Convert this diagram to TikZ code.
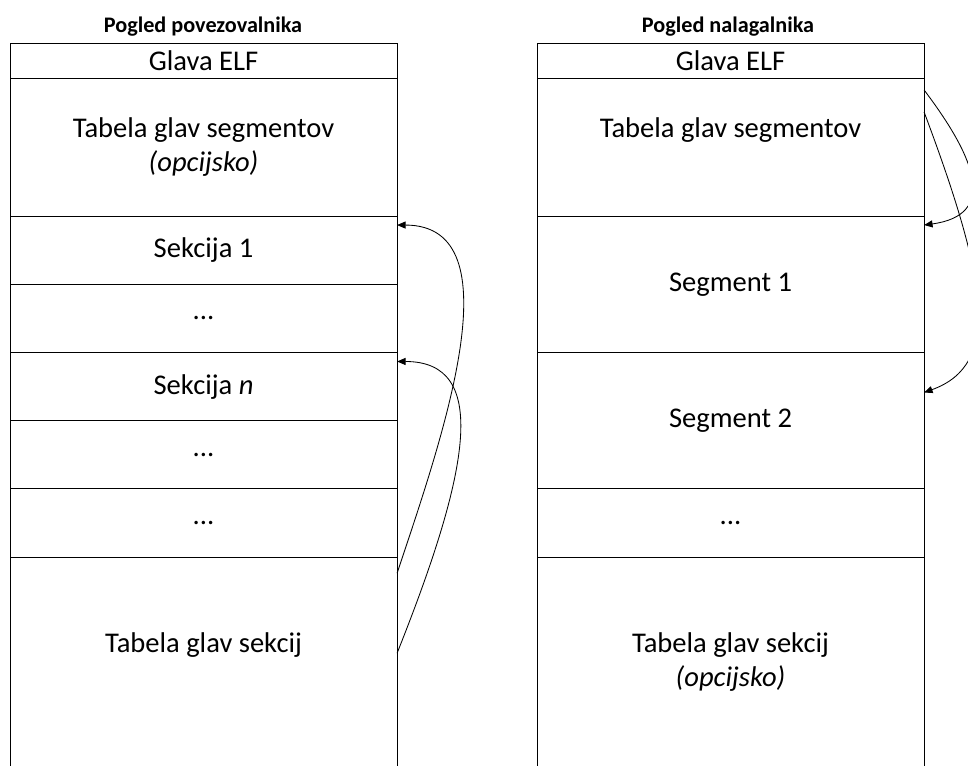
\documentclass[tikz,border=0pt]{standalone}
\usepackage{fontspec}
\setmainfont{Carlito}
\usepackage{tikz}
\usetikzlibrary{positioning,calc,arrows.meta}
\tikzset{
  row/.style={draw, line width=0.7pt, inner sep=0pt, outer sep=0pt,
    minimum width=9.675cm, align=center,
    font=\fontsize{20.3}{24.2}\selectfont},
  rowtext/.style={align=center, inner sep=0pt,
    font=\fontsize{20.3}{24.2}\selectfont},
  viewtitle/.style={anchor=base, font=\bfseries\fontsize{15.8}{19}\selectfont}
}
\tikzstyle{ptr} = [line width=0.6pt, -{Triangle[length=6pt,width=5pt]}]

\begin{document}
\begin{tikzpicture}[x=0.025cm, y=-0.025cm]
\useasboundingbox (0,0) rectangle (968,765);
\clip (0,0) rectangle (968,765);

% pogled povezovalnika
\node[viewtitle] (titleL) at (203,32) {Pogled povezovalnika};
\node[row, minimum height=0.875cm, anchor=north west] (glavaL) at (10,43) {Glava ELF};
\node[row, minimum height=3.45cm, below=0pt of glavaL] (tsegL) {Tabela glav segmentov\\\emph{(opcijsko)}};
\node[row, minimum height=1.705cm, below=0pt of tsegL] (sek1L) {Sekcija 1};
\node[row, minimum height=1.705cm, below=0pt of sek1L] (dots1L) {...};
\node[row, minimum height=1.705cm, below=0pt of dots1L] (seknL) {Sekcija \emph{n}};
\node[row, minimum height=1.705cm, below=0pt of seknL] (dots2L) {...};
\node[row, minimum height=1.705cm, below=0pt of dots2L] (dots3L) {...};
\node[row, minimum height=6cm, below=0pt of dots3L] (shL) {};
\node[rowtext] (tshL) at ($(shL.north)+(0,88)$) {Tabela glav sekcij};

% pogled nalagalnika
\node[viewtitle] (titleR) at (728,32) {Pogled nalagalnika};
\node[row, minimum height=0.875cm, anchor=north west] (glavaR) at (537,43) {Glava ELF};
\node[row, minimum height=3.45cm, below=0pt of glavaR] (tsegR) {Tabela glav segmentov\\\phantom{(opcijsko)}};
\node[row, minimum height=3.41cm, below=0pt of tsegR] (seg1R) {Segment 1};
\node[row, minimum height=3.41cm, below=0pt of seg1R] (seg2R) {Segment 2};
\node[row, minimum height=1.705cm, below=0pt of seg2R] (dotsR) {...};
\node[row, minimum height=6cm, below=0pt of dotsR] (shR) {};
\node[rowtext] (tshR) at ($(shR.north)+(0,105)$) {Tabela glav sekcij\\\emph{(opcijsko)}};

% kazalci
\draw[ptr] ($(shL.north east)+(0,16)$) .. controls +(45,-135) and +(120,0) .. ($(sek1L.north east)+(0,9)$);
\draw[ptr] ($(shL.north east)+(0,96)$) .. controls +(73,-183) and +(93,0) .. ($(seknL.north east)+(0,9)$);
\draw[ptr] ($(tsegR.north east)+(0,12)$) .. controls +(53,70) and +(73,-10) .. ($(seg1R.north east)+(0,9)$);
\draw[ptr] ($(tsegR.north east)+(0,34)$) .. controls +(63,168) and +(78,-28) .. ($(seg2R.north east)+(0,40)$);
\end{tikzpicture}
\end{document}
